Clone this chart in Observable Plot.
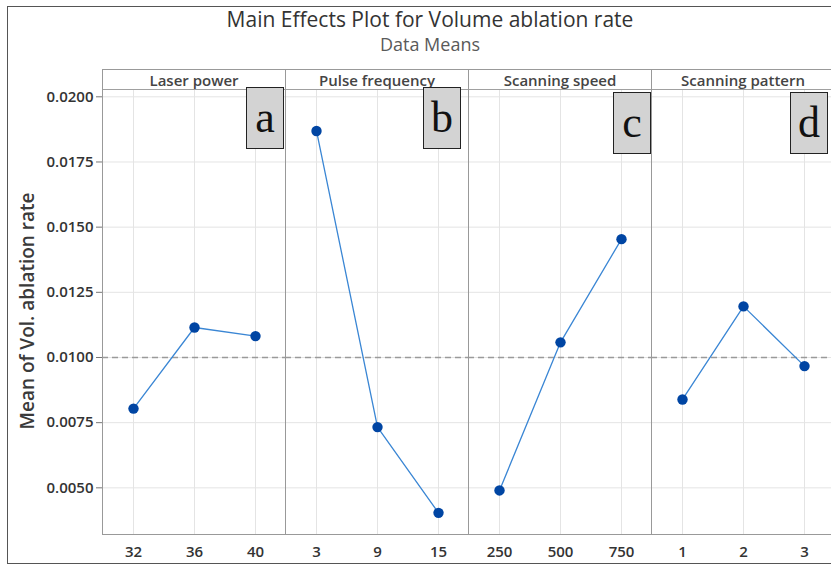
<!DOCTYPE html>
<html>
<head>
<meta charset="utf-8">
<script src="https://cdn.jsdelivr.net/npm/d3@7"></script>
<script src="https://cdn.jsdelivr.net/npm/@observablehq/plot@0.6"></script>
<style>
  html, body { margin: 0; padding: 0; overflow: hidden; background: #fff; }
  #wrap { position: relative; width: 831px; height: 567px; overflow: hidden; font-family: "Open Sans", sans-serif; }
  #border { position: absolute; left: 7px; top: 6px; width: 900px; height: 558px; border: 1px solid #555; box-sizing: border-box; pointer-events: none; }
  #header { position: relative; width: 860px; height: 60px; text-align: center; }
  #title { position: absolute; left: 0; right: 0; top: 7px; font-size: 21px; color: #333; line-height: 24px; }
  #subtitle { position: absolute; left: 0; right: 0; top: 34px; font-size: 18px; color: #5a5a5a; line-height: 20px; }
  #chart svg { max-width: none !important; display: block; }
  .tag { position: absolute; width: 38px; height: 62px; background: #d3d3d3; border: 1.5px solid #222; box-sizing: border-box;
         font-family: "Liberation Serif", "DejaVu Serif", serif; font-size: 44px; line-height: 59px; text-align: center; color: #111; }
</style>
</head>
<body>
<div id="wrap">
  <div id="header">
    <div id="title">Main Effects Plot for Volume ablation rate</div>
    <div id="subtitle">Data Means</div>
  </div>
  <div id="chart"></div>
  <div class="tag" style="left:246px; top:87px;">a</div>
  <div class="tag" style="left:423px; top:87px;">b</div>
  <div class="tag" style="left:613px; top:92px;">c</div>
  <div class="tag" style="left:790px; top:92px;">d</div>
  <div id="border"></div>
</div>
<script>
const factors = ["Laser power", "Pulse frequency", "Scanning speed", "Scanning pattern"];
const levels = [["32", "36", "40"], ["3", "9", "15"], ["250", "500", "750"], ["1", "2", "3"]];
const means = [
  [0.00804, 0.01115, 0.01082],
  [0.01869, 0.00733, 0.00404],
  [0.00490, 0.01058, 0.01454],
  [0.00839, 0.01196, 0.00967]
];
const grandMean = 0.0100;
const yTicks = [0.0050, 0.0075, 0.0100, 0.0125, 0.0150, 0.0175, 0.0200];
const yDomain = [0.00321, 0.02028];
const yLabel = "Mean of Vol. ablation rate";

const data = factors.flatMap((f, i) => levels[i].map((l, j) => ({factor: f, idx: j, level: l, value: means[i][j]})));

const font = "Open Sans, sans-serif";

const chart = Plot.plot({
  width: 836,
  height: 507,
  marginTop: 9,
  marginLeft: 101,
  marginRight: 1,
  marginBottom: 33,
  style: {fontFamily: font, background: "transparent", overflow: "visible", maxWidth: "none"},
  fx: {domain: factors, padding: 0, axis: null},
  x: {type: "point", domain: [0, 1, 2], padding: 0.5, axis: null},
  y: {domain: yDomain, range: [474, 29], axis: null},
  marks: [
    Plot.ruleY(yTicks, {y: d => d, stroke: "#e4e4e4", strokeWidth: 1}),
    Plot.ruleX(data, {fx: "factor", x: "idx", y1: yDomain[0], y2: yDomain[1], stroke: "#e4e4e4", strokeWidth: 1}),
    Plot.ruleY([grandMean], {y: d => d, stroke: "#9a9a9a", strokeWidth: 1.3, strokeDasharray: "6,4"}),
    Plot.ruleY([yDomain[1]], {y: d => d, stroke: "#a0a0a0", strokeWidth: 1}),
    Plot.frame({stroke: "#999", strokeWidth: 1}),
    Plot.text(factors, {fx: d => d, text: d => d, frameAnchor: "top", lineAnchor: "middle", dy: 11.5,
      fontSize: 15, fontWeight: 600, fill: "#444"}),
    Plot.line(data, {fx: "factor", x: "idx", y: "value", stroke: "#3a86d4", strokeWidth: 1.3}),
    Plot.dot(data, {fx: "factor", x: "idx", y: "value", r: 5.2, fill: "#0045a3", stroke: "none"}),
    Plot.text(data, {fx: "factor", x: "idx", text: "level", frameAnchor: "bottom", lineAnchor: "middle", dy: 18,
      fontSize: 15, fontWeight: 600, fill: "#333"}),
    Plot.axisY(yTicks, {anchor: "left", tickFormat: d3.format(".4f"), tickSize: 6, tickPadding: 3,
      fontSize: 15, fontWeight: 600, fill: "#333", stroke: "#777", label: null}),
    Plot.text([yLabel], {fx: () => factors[0], text: d => d, frameAnchor: "left", rotate: -90, dx: -75, dy: 9,
      textAnchor: "middle", lineAnchor: "middle", fontSize: 19, fontWeight: 600, fill: "#3a3a3a"})
  ]
});
document.getElementById("chart").appendChild(chart);
</script>
</body>
</html>
